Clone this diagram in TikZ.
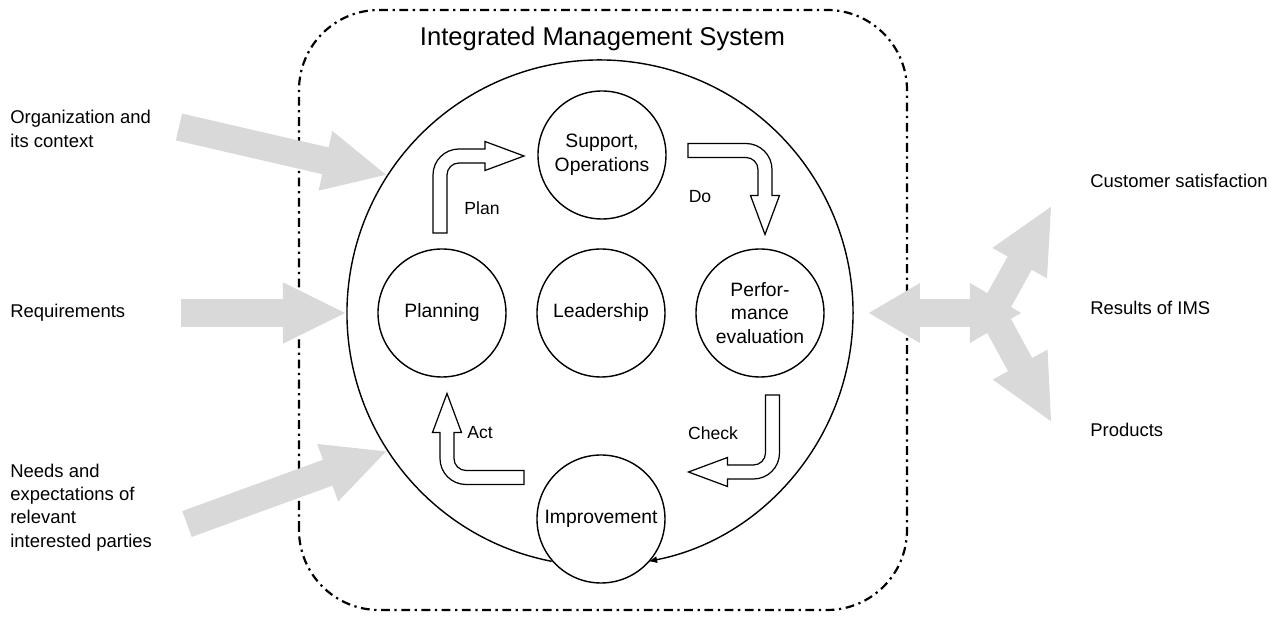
\documentclass[tikz,border=0pt]{standalone}
\usepackage{fontspec}
\setmainfont{Liberation Sans}
\usepackage{tikz}
\usetikzlibrary{arrows.meta}

\definecolor{flowgray}{RGB}{217,217,217}

\tikzset{
    phase/.style={circle, draw, line width=0.8pt, fill=white, minimum size=2.56cm, inner sep=0pt, align=center, font=\fontsize{11}{13.5}\selectfont},
    steptext/.style={font=\fontsize{10}{12}\selectfont},
    sidetext/.style={anchor=west, inner sep=0pt, align=left, font=\fontsize{10.5}{13.2}\selectfont},
    grayflow/.style={line width=0.55cm, draw=flowgray, -{Triangle[length=1.28cm, width=1.12cm]}},
    bendarrow/.pic={
        \draw[line width=0.7pt, fill=white]
            (-0.14,0) -- (-0.14,1.16) arc[start angle=180, end angle=90, radius=0.52]
            -- (0.9,1.68) -- (0.9,1.83) -- (1.68,1.54) -- (0.9,1.25) -- (0.9,1.40)
            -- (0.38,1.40) arc[start angle=90, end angle=180, radius=0.24]
            -- (0.14,0) -- cycle;
    }
}

\begin{document}
\begin{tikzpicture}
    \useasboundingbox (-12,-6.16) rectangle (13.62,6.26);
    % system boundary
    \draw[line width=1.25pt, dash pattern=on 5pt off 2.6pt on 1.3pt off 2.6pt, rounded corners=1.6cm] (-6.02,-5.94) rectangle (6.14,6.06);
    \node[font=\fontsize{14.6}{17}\selectfont] (title) at (0.05,5.49) {Integrated Management System};
    % outer cycle
    \node[circle, minimum size=10.12cm, inner sep=0pt, outer sep=0pt] (ims) at (0,0) {};
    \draw[line width=0.8pt, -{Latex[length=5pt, width=4pt]}] (ims.259) arc[start angle=259, end angle=-79, radius=5.06cm];
    \node[phase] (lead) at (0.02,0) {Leadership};
    \node[phase] (supp) at (0.04,3.16) {Support,\\Operations};
    \node[phase] (plan) at (-3.16,0) {Planning};
    \node[phase] (perf) at (3.2,0) {Perfor-\\mance\\evaluation};
    \node[phase] (impr) at (0.02,-4.12) {Improvement};
    % PDCA arrows
    \pic[rotate=0] at (-3.2,1.6) {bendarrow};
    \pic[rotate=-90] at (1.76,3.25) {bendarrow};
    \pic[rotate=180] at (3.45,-1.64) {bendarrow};
    \pic[rotate=90] at (-1.52,-3.29) {bendarrow};
    \node[steptext] (plantext) at (-2.36,2.1) {Plan};
    \node[steptext] (dotext) at (2.0,2.32) {Do};
    \node[steptext] (checktext) at (2.26,-2.4) {Check};
    \node[steptext] (acttext) at (-2.4,-2.4) {Act};
    % inputs
    \node[sidetext] (org) at (-11.8,3.68) {Organization and\\its context};
    \node[sidetext] (req) at (-11.8,0) {Requirements};
    \node[sidetext] (needs) at (-11.8,-3.89) {Needs and\\expectations of\\relevant\\interested parties};
    \coordinate (orgtail) at (-8.42,3.72);
    \coordinate (reqtail) at (-8.38,0);
    \coordinate (needstail) at (-8.26,-4.22);
    \draw[grayflow] (orgtail) -- (ims.147);
    \draw[grayflow] (reqtail) -- (ims.west);
    \draw[grayflow] (needstail) -- (ims.213);
    % results
    \coordinate (resleft) at (5.36,0);
    \coordinate (resright) at (8.44,0);
    \coordinate (resfork) at (7.84,0);
    \coordinate (custtip) at (9.04,2.16);
    \coordinate (prodtip) at (9.04,-2.2);
    \draw[grayflow, -{Triangle[length=1.33cm, width=1.14cm]}] (resfork) -- (custtip);
    \draw[grayflow, -{Triangle[length=1.33cm, width=1.14cm]}] (resfork) -- (prodtip);
    \draw[grayflow, {Triangle[length=1.04cm, width=1.12cm]}-{Triangle[length=1.04cm, width=1.12cm]}] (resleft) -- (resright);
    \node[sidetext] (cust) at (9.8,2.64) {Customer satisfaction};
    \node[sidetext] (res) at (9.8,0.1) {Results of IMS};
    \node[sidetext] (prod) at (9.8,-2.34) {Products};
\end{tikzpicture}
\end{document}
